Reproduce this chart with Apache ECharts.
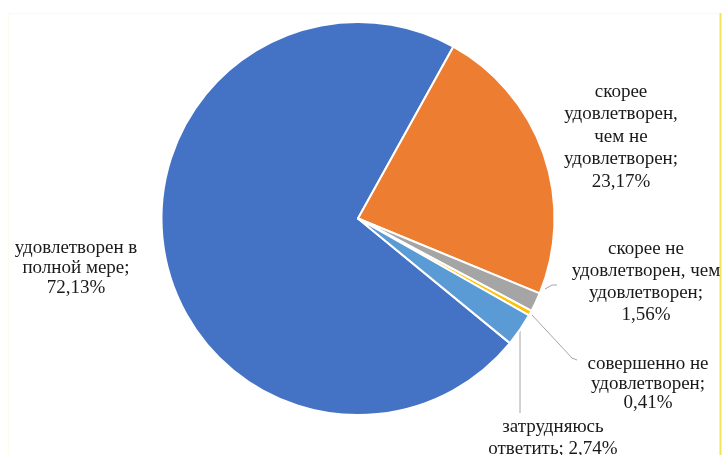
<!DOCTYPE html>
<html>
<head>
<meta charset="utf-8">
<script src="https://cdn.jsdelivr.net/npm/echarts@6/dist/echarts.min.js"></script>
<style>
html,body{margin:0;padding:0;background:#fff;}
#chart{width:722px;height:455px;}
</style>
</head>
<body>
<div id="chart"></div>
<script>
// Data
var categories = [
  'удовлетворен в\nполной мере',
  'скорее\nудовлетворен,\nчем не\nудовлетворен',
  'скорее не\nудовлетворен, чем\nудовлетворен',
  'совершенно не\nудовлетворен',
  'затрудняюсь\nответить'
];
var values = [72.13, 23.17, 1.56, 0.41, 2.74];
var colors = ['#4472C4', '#ED7D31', '#A5A5A5', '#FFC000', '#5B9BD5'];
var valueSeparators = ';\n|;\n|;\n|;\n|; '.split('|');

// Label placement (styles/positions)
var labelPos = [
  {x: 76,  y: 268, lh: 20},
  {x: 621, y: 137, lh: 22.5},
  {x: 646, y: 282, lh: 22},
  {x: 648, y: 384, lh: 19.5},
  {x: 553, y: 438, lh: 22}
];
var linePts = [
  null,
  null,
  [[545, 289], [552, 285], [557, 285]],
  [[532, 315], [572, 358], [577, 360]],
  [[520, 331], [520, 413]]
];

var chart = echarts.init(document.getElementById('chart'), null, {renderer: 'canvas'});

var data = categories.map(function (n, i) {
  return {
    name: n,
    value: values[i],
    itemStyle: {color: colors[i]},
    label: {lineHeight: labelPos[i].lh},
    labelLine: {show: linePts[i] != null}
  };
});

var option = {
  animation: false,
  backgroundColor: '#ffffff',
  graphic: [
    {type: 'line', shape: {x1: 8, y1: 13.5, x2: 720, y2: 13.5}, style: {stroke: '#fdfbe6', lineWidth: 1}, z: -1},
    {type: 'line', shape: {x1: 8.5, y1: 13, x2: 8.5, y2: 455}, style: {stroke: '#fdfbe9', lineWidth: 1}, z: -1},
    {type: 'line', shape: {x1: 720.5, y1: 13, x2: 720.5, y2: 455}, style: {stroke: '#f2e45a', lineWidth: 2}, z: -1}
  ],
  series: [{
    type: 'pie',
    center: [358, 218.5],
    radius: [0, 196.5],
    startAngle: -39.37,
    clockwise: true,
    avoidLabelOverlap: false,
    itemStyle: {borderColor: '#ffffff', borderWidth: 2},
    label: {
      show: true,
      position: 'outside',
      fontFamily: '"Liberation Serif", "Times New Roman", serif',
      fontSize: 19,
      color: '#1a1a1a',
      align: 'center',
      width: 220,
      overflow: 'none',
      formatter: function (p) {
        return p.name + valueSeparators[p.dataIndex] + String(p.value.toFixed(2)).replace('.', ',') + '%';
      }
    },
    labelLine: {show: true, lineStyle: {color: '#A6A6A6', width: 1}},
    labelLayout: function (params) {
      var i = params.dataIndex;
      var o = {
        x: labelPos[i].x,
        y: labelPos[i].y,
        align: 'center',
        verticalAlign: 'middle'
      };
      if (linePts[i]) o.labelLinePoints = linePts[i];
      return o;
    },
    emphasis: {disabled: true},
    data: data
  }]
};
chart.setOption(option);
</script>
</body>
</html>
